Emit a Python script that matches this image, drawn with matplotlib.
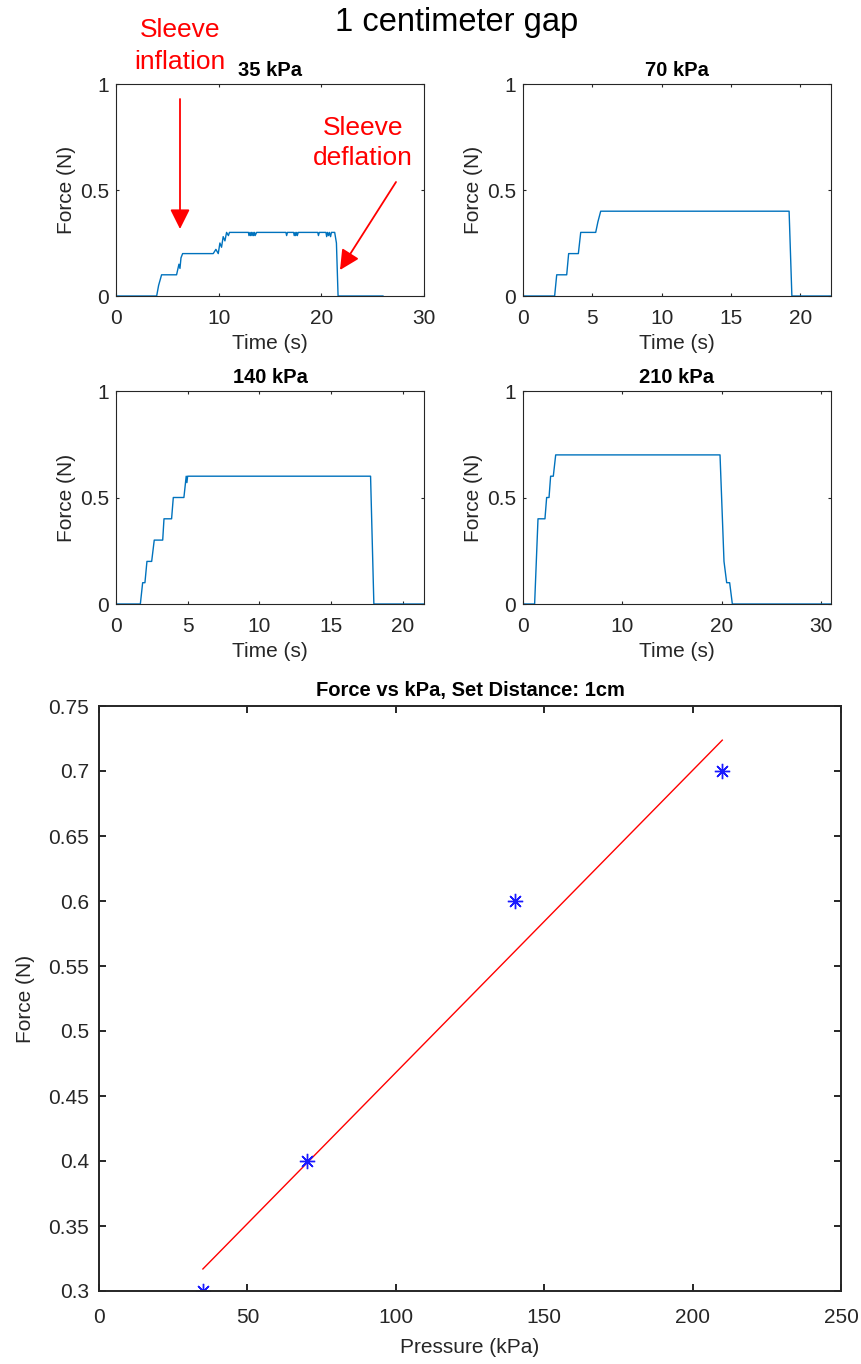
import matplotlib
matplotlib.use('Agg')
import matplotlib.pyplot as plt
import numpy as np
from matplotlib.ticker import FormatStrFormatter

plt.rcParams['font.family'] = ['Liberation Sans', 'DejaVu Sans']

# force traces (time in s, force in N)
t35 = [0, 3.96, 4.15, 4.44, 5.9, 6.13, 6.23, 6.33, 6.49, 9.47, 9.73, 9.96, 10.12, 10.28,
       10.44, 10.61, 10.77, 10.95, 11.05, 12.9, 12.95, 13.05, 13.1, 13.2, 13.25, 13.35,
       13.4, 13.5, 13.55, 13.7, 16.55, 16.62, 16.7, 17.3, 17.36, 17.45, 17.5, 17.6, 17.66,
       17.75, 19.65, 19.72, 19.8, 20.45, 20.52, 20.6, 20.7, 20.78, 20.9, 20.98, 21.1, 21.3,
       21.47, 21.63, 26.0]
f35 = [0, 0, 0.05, 0.1, 0.1, 0.15, 0.13, 0.18, 0.2, 0.2, 0.22, 0.2, 0.25, 0.23,
       0.28, 0.26, 0.3, 0.285, 0.3, 0.3, 0.285, 0.3, 0.285, 0.3, 0.285, 0.3,
       0.285, 0.3, 0.285, 0.3, 0.3, 0.285, 0.3, 0.3, 0.285, 0.3, 0.285, 0.3, 0.285,
       0.3, 0.3, 0.285, 0.3, 0.3, 0.28, 0.3, 0.285, 0.3, 0.28, 0.3, 0.3, 0.3,
       0.25, 0, 0]

t70 = [0, 2.28, 2.43, 3.15, 3.29, 3.99, 4.16, 5.24, 5.4, 5.6, 19.18, 19.38, 22.2]
f70 = [0, 0, 0.1, 0.1, 0.2, 0.2, 0.3, 0.3, 0.35, 0.4, 0.4, 0, 0]

t140 = [0, 1.70, 1.86, 2.02, 2.16, 2.49, 2.67, 3.26, 3.35, 3.88, 4.0, 4.74, 4.9, 4.95,
        5.0, 17.77, 18.0, 21.5]
f140 = [0, 0, 0.1, 0.1, 0.2, 0.2, 0.3, 0.3, 0.4, 0.4, 0.5, 0.5, 0.6, 0.57,
        0.6, 0.6, 0, 0]

t210 = [0, 1.17, 1.51, 2.21, 2.38, 2.62, 2.78, 3.05, 3.29, 19.83, 20.23, 20.5, 20.8, 21.07, 31]
f210 = [0, 0, 0.4, 0.4, 0.5, 0.5, 0.6, 0.6, 0.7, 0.7, 0.2, 0.1, 0.1, 0, 0]

# summary points
pressure = [35, 70, 140, 210]
force = [0.3, 0.4, 0.6, 0.7]

W, H = 862, 1364
fig = plt.figure(figsize=(W / 100, H / 100), dpi=100)
fig.patch.set_facecolor('white')


def px_axes(l, t, r, b):
    return fig.add_axes([l / W, 1 - b / H, (r - l) / W, (b - t) / H])


def fx(x):
    return x / W


def fy(y):
    return 1 - y / H


def style_axes(ax, lw, tlen, size):
    for s in ax.spines.values():
        s.set_color('#262626')
        s.set_linewidth(lw)
    ax.tick_params(direction='in', top=True, right=True, length=tlen, width=lw,
                   colors='#262626', labelsize=size, labelcolor='#262626')


panels = [
    ((116, 84, 424, 296), t35, f35, '35 kPa', 30, [0, 10, 20, 30]),
    ((523, 84, 831, 296), t70, f70, '70 kPa', 22.2, [0, 5, 10, 15, 20]),
    ((116, 391, 424, 604), t140, f140, '140 kPa', 21.5, [0, 5, 10, 15, 20]),
    ((523, 391, 831, 604), t210, f210, '210 kPa', 31, [0, 10, 20, 30]),
]

for box, t, f, title, xmax, xt in panels:
    ax = px_axes(*box)
    ax.plot(t, f, color='#0072BD', lw=1.0)
    ax.set_xlim(0, xmax)
    ax.set_ylim(0, 1)
    ax.set_xticks(xt)
    ax.set_yticks([0, 0.5, 1])
    ax.set_yticklabels(['0', '0.5', '1'])
    style_axes(ax, 0.8, 2.5, 15)
    ax.tick_params(axis='x', pad=9)
    ax.tick_params(axis='y', pad=5)
    ax.set_title(title, fontsize=14.5, fontweight='bold', pad=6)
    ax.set_xlabel('Time (s)', fontsize=15, color='#262626', labelpad=5)
    ax.set_ylabel('Force (N)', fontsize=15, color='#262626', labelpad=3)

fig.text(fx(457), fy(22), '1 centimeter gap', fontsize=23.5, ha='center', va='center')

# red annotations
fig.text(fx(180), fy(30), 'Sleeve', fontsize=19, color='red', ha='center', va='center')
fig.text(fx(180), fy(62), 'inflation', fontsize=19, color='red', ha='center', va='center')
fig.text(fx(363), fy(128), 'Sleeve', fontsize=19, color='red', ha='center', va='center')
fig.text(fx(363), fy(158), 'deflation', fontsize=19, color='red', ha='center', va='center')
arrow = dict(arrowstyle='-|>,head_length=0.6,head_width=0.3', color='red', lw=1.3,
             mutation_scale=20, shrinkA=0, shrinkB=0)
fig.add_artist(plt.Annotation('', xy=(fx(180), fy(229)), xytext=(fx(180), fy(99)),
                              xycoords='figure fraction', textcoords='figure fraction',
                              arrowprops=arrow))
fig.add_artist(plt.Annotation('', xy=(fx(340), fy(270)), xytext=(fx(396), fy(182)),
                              xycoords='figure fraction', textcoords='figure fraction',
                              arrowprops=arrow))

# force vs pressure
ax = px_axes(99, 706, 841, 1291)
coef = np.polyfit(pressure, force, 1)
xfit = np.array([pressure[0], pressure[-1]])
ax.plot(xfit, np.polyval(coef, xfit), color='red', lw=1.0)
ax.plot(pressure, force, linestyle='none', marker=(8, 2, 0), markersize=11,
        color='#1a1aff', markeredgewidth=1.0)
ax.set_xlim(0, 250)
ax.set_ylim(0.3, 0.75)
ax.set_xticks(np.arange(0, 251, 50))
ax.set_yticks(np.arange(0.3, 0.751, 0.05))
ax.yaxis.set_major_formatter(FormatStrFormatter('%g'))
style_axes(ax, 1.4, 5, 15)
ax.tick_params(axis='x', pad=12)
ax.tick_params(axis='y', pad=7)
ax.set_title('Force vs kPa, Set Distance: 1cm', fontsize=14.5, fontweight='bold', pad=7)
ax.set_xlabel('Pressure (kPa)', fontsize=15, color='#262626', labelpad=8)
ax.set_ylabel('Force (N)', fontsize=15, color='#262626', labelpad=10)

fig.savefig('out.png', dpi=100)
plt.close(fig)
